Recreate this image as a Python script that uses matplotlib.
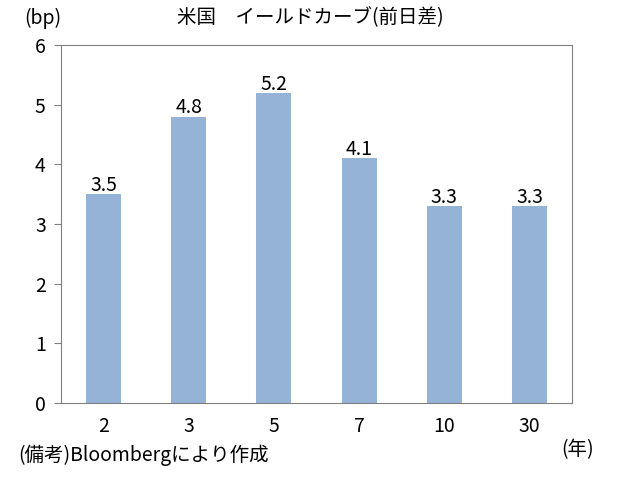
import numpy as np
import matplotlib
matplotlib.use('Agg')
import matplotlib.pyplot as plt

plt.rcParams['font.family'] = ['Noto Sans CJK JP', 'DejaVu Sans']

# data
maturities = ['2', '3', '5', '7', '10', '30']
change_bp = [3.5, 4.8, 5.2, 4.1, 3.3, 3.3]

fig = plt.figure(figsize=(6.18, 4.8), dpi=100)
ax = fig.add_axes([61/618, 1 - 403/480, 511/618, 358/480])

x = np.arange(len(maturities))
ax.bar(x, change_bp, width=0.41, color='#95B3D7')
for xi, v in zip(x, change_bp):
    ax.text(xi, v - 0.03, f'{v:.1f}', ha='center', va='bottom', fontsize=14)

ax.set_xlim(-0.5, len(maturities) - 0.5)
ax.set_ylim(0, 6)
ax.set_yticks(range(0, 7))
ax.set_xticks(x)
ax.set_xticklabels(maturities)
ax.tick_params(axis='x', length=0, pad=9, labelsize=14)
ax.tick_params(axis='y', length=5, labelsize=14, color='#808080', direction='out', pad=6)
for s in ax.spines.values():
    s.set_color('#808080')

fig.text(310/618, 1 - 18/480, '米国　イールドカーブ(前日差)', ha='center', va='center', fontsize=14)
fig.text(43/618, 1 - 18/480, '(bp)', ha='center', va='center', fontsize=14)
fig.text(578/618, 1 - 450/480, '(年)', ha='center', va='center', fontsize=14)
fig.text(18/618, 1 - 455/480, '(備考)Bloombergにより作成', ha='left', va='center', fontsize=14)

fig.savefig('out.png', dpi=100)
